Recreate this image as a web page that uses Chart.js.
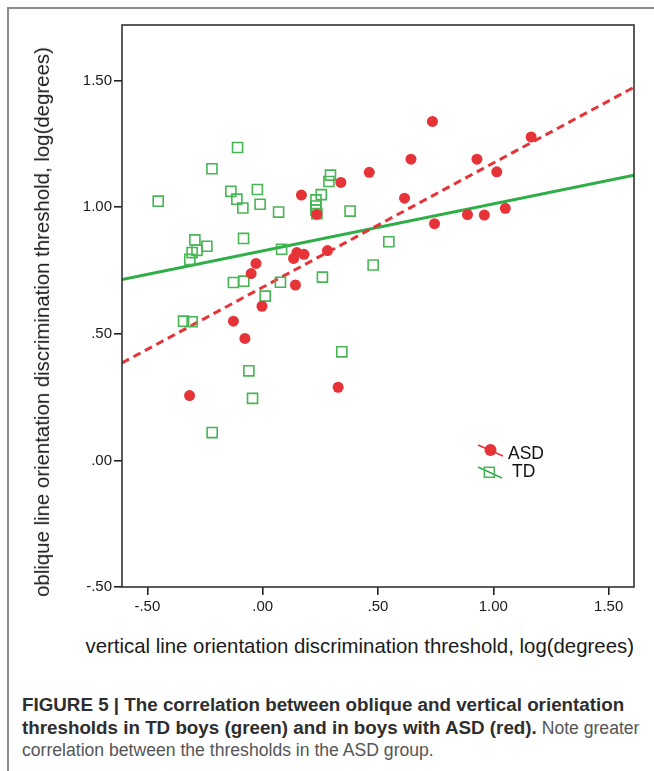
<!DOCTYPE html>
<html>
<head>
<meta charset="utf-8">
<script src="https://cdn.jsdelivr.net/npm/chart.js@4/dist/chart.umd.min.js"></script>
<style>
  html, body { margin: 0; padding: 0; background: #fff; }
  body { width: 654px; height: 771px; position: relative; overflow: hidden; font-family: "Liberation Sans", Arial, sans-serif; }
  #frame { position: absolute; left: 7px; top: 7px; width: 660px; height: 780px; border-top: 2px solid #8c8c8c; border-left: 2px solid #8c8c8c; }
  #wrap { position: absolute; left: 0; top: 0; width: 654px; height: 625px; }
  #ytitle { position: absolute; left: 42px; top: 322px; transform: translate(-50%, -50%) rotate(-90deg); white-space: nowrap; font-size: 20.4px; line-height: 20px; color: #1a1a1a; }
  #xtitle { position: absolute; right: 20px; top: 636px; white-space: nowrap; font-size: 20.4px; line-height: 20px; color: #1a1a1a; }
  #caption { position: absolute; left: 22px; top: 694px; white-space: nowrap; font-size: 17.6px; line-height: 22.5px; color: #555; }
  #caption b { color: #2e2e2e; font-size: 18.8px; }
</style>
</head>
<body>
<div id="frame"></div>
<div id="wrap"><canvas id="c"></canvas></div>
<div id="ytitle">oblique line orientation discrimination threshold, log(degrees)</div>
<div id="xtitle">vertical line orientation discrimination threshold, log(degrees)</div>
<div id="caption"><b>FIGURE 5 | The correlation between oblique and vertical orientation</b><br><b>thresholds in TD boys (green) and in boys with ASD (red).</b> Note greater<br>correlation between the thresholds in the ASD group.</div>
<script>
// ---- data ----
const asdX = [0.736, 1.164, 0.643, 0.929, 0.462, 1.015, 0.339, 0.168, 0.615, 0.235, 0.888, 0.961, 1.052, 0.745, 0.281, 0.148, 0.134, 0.179, -0.029, -0.050, 0.142, -0.003, -0.127, -0.077, -0.317, 0.327];
const asdY = [1.339, 1.278, 1.190, 1.190, 1.138, 1.140, 1.098, 1.048, 1.036, 0.972, 0.971, 0.969, 0.996, 0.935, 0.829, 0.821, 0.798, 0.814, 0.778, 0.738, 0.693, 0.609, 0.550, 0.482, 0.256, 0.289];
const tdX = [-0.109, -0.220, -0.453, -0.138, -0.023, -0.112, -0.086, -0.011, 0.069, -0.083, -0.294, -0.242, -0.285, -0.306, -0.316, 0.082, -0.127, -0.082, 0.077, 0.011, 0.294, 0.287, 0.254, 0.231, 0.231, 0.231, 0.235, 0.379, 0.547, 0.479, 0.259, 0.343, -0.343, -0.306, -0.060, -0.044, -0.219];
const tdY = [1.236, 1.152, 1.024, 1.063, 1.070, 1.032, 0.997, 1.012, 0.981, 0.877, 0.871, 0.846, 0.830, 0.821, 0.794, 0.834, 0.703, 0.708, 0.704, 0.649, 1.127, 1.102, 1.050, 1.029, 1.005, 0.989, 0.975, 0.985, 0.864, 0.772, 0.724, 0.429, 0.550, 0.548, 0.354, 0.245, 0.110];
// fit line end points (at the plot edges)
const asdFitX = [-0.61, 1.61];
const asdFitY = [0.385, 1.474];
const tdFitX = [-0.61, 1.61];
const tdFitY = [0.715, 1.127];
// axes
const xTicks = [-0.5, 0, 0.5, 1.0, 1.5];
const xTickLabels = ['-.50', '.00', '.50', '1.00', '1.50'];
const yTicks = [-0.5, 0, 0.5, 1.0, 1.5];
const yTickLabels = ['-.50', '.00', '.50', '1.00', '1.50'];
const xRange = [-0.61, 1.61];
const yRange = [-0.5, 1.72];
const seriesNames = ['ASD', 'TD'];

const RED = '#e63338';
const GREEN_PT = '#45b653';
const GREEN_LN = '#2fae48';

const toPts = (xs, ys) => xs.map((x, i) => ({x: x, y: ys[i]}));

const boxPlugin = {
  id: 'box',
  afterDraw(chart) {
    const {ctx, chartArea: a} = chart;
    ctx.save();
    ctx.strokeStyle = '#333';
    ctx.lineWidth = 1.6;
    ctx.strokeRect(a.left, a.top, a.right - a.left, a.bottom - a.top);
    // legend
    const L = a.left, T = a.top;
    ctx.lineWidth = 1.4;
    ctx.strokeStyle = RED;
    ctx.beginPath(); ctx.moveTo(L + 356, T + 420); ctx.lineTo(L + 381, T + 431); ctx.stroke();
    ctx.fillStyle = RED;
    ctx.beginPath(); ctx.arc(L + 368.5, T + 425, 6, 0, Math.PI * 2); ctx.fill();
    ctx.strokeStyle = GREEN_LN;
    ctx.beginPath(); ctx.moveTo(L + 356, T + 442); ctx.lineTo(L + 380, T + 453); ctx.stroke();
    ctx.strokeStyle = GREEN_PT;
    ctx.lineWidth = 1.5;
    ctx.strokeRect(L + 362.3, T + 442.3, 10, 10);
    ctx.fillStyle = '#111';
    ctx.font = '17.5px "Liberation Sans", Arial, sans-serif';
    ctx.textBaseline = 'middle';
    ctx.textAlign = 'left';
    ctx.fillText(seriesNames[0], L + 386, T + 429);
    ctx.fillText(seriesNames[1], L + 390, T + 447.5);
    ctx.restore();
  }
};

const tickFont = {family: '"Liberation Sans", Arial, sans-serif', size: 15};

new Chart(document.getElementById('c'), {
  type: 'scatter',
  data: {
    datasets: [
      {label: 'ASD', data: toPts(asdX, asdY), pointStyle: 'circle', pointRadius: 5.5, backgroundColor: RED, borderColor: RED, borderWidth: 0},
      {label: 'TD', data: toPts(tdX, tdY), pointStyle: 'rect', pointRadius: 7.1, backgroundColor: 'rgba(0,0,0,0)', borderColor: GREEN_PT, borderWidth: 1.6},
      {label: 'ASD fit', data: toPts(asdFitX, asdFitY), showLine: true, pointRadius: 0, borderColor: RED, borderWidth: 3, borderDash: [8, 5], fill: false},
      {label: 'TD fit', data: toPts(tdFitX, tdFitY), showLine: true, pointRadius: 0, borderColor: GREEN_LN, borderWidth: 3, fill: false}
    ]
  },
  options: {
    responsive: true,
    maintainAspectRatio: false,
    animation: false,
    events: [],
    layout: {padding: {left: 0, right: 20, top: 25, bottom: 0}, autoPadding: false},
    plugins: {legend: {display: false}, tooltip: {enabled: false}},
    scales: {
      x: {
        type: 'linear', min: xRange[0], max: xRange[1],
        afterBuildTicks: s => { s.ticks = xTicks.map(v => ({value: v})); },
        afterFit: s => { s.height = 625 - 587; },
        ticks: {callback: v => xTickLabels[xTicks.indexOf(v)], font: tickFont, color: '#1a1a1a', padding: 3, maxRotation: 0, autoSkip: false},
        grid: {drawOnChartArea: false, drawTicks: true, tickLength: 8, color: '#222', lineWidth: 1.6},
        border: {display: false}
      },
      y: {
        type: 'linear', min: yRange[0], max: yRange[1],
        afterBuildTicks: s => { s.ticks = yTicks.map(v => ({value: v})); },
        afterFit: s => { s.width = 122; },
        ticks: {callback: v => yTickLabels[yTicks.indexOf(v)], font: tickFont, color: '#1a1a1a', padding: 2, autoSkip: false},
        grid: {drawOnChartArea: false, drawTicks: true, tickLength: 8, color: '#222', lineWidth: 1.6},
        border: {display: false}
      }
    }
  },
  plugins: [boxPlugin]
});
</script>
</body>
</html>
